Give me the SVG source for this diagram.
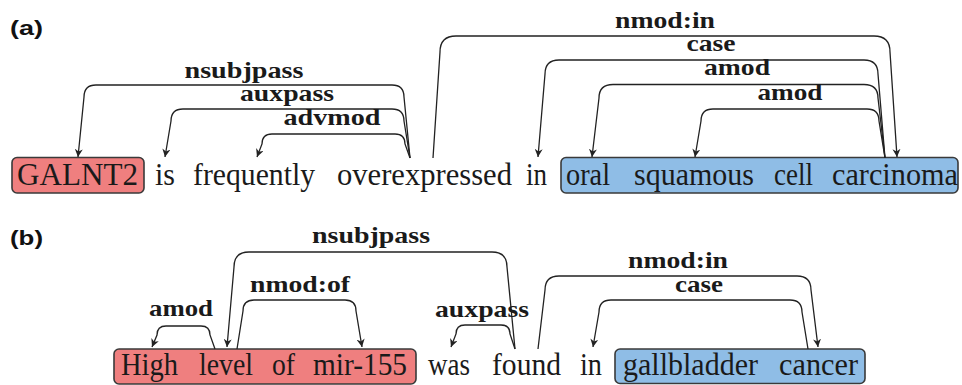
<svg xmlns="http://www.w3.org/2000/svg" width="962" height="385" viewBox="0 0 962 385">
<defs>
<marker id="ah" viewBox="0 0 10 10" refX="10" refY="5" markerWidth="8" markerHeight="8" markerUnits="userSpaceOnUse" orient="auto">
<path d="M0,0 L10,5 L0,10 L3,5 z" fill="#222"/>
</marker>
</defs>
<rect width="962" height="385" fill="#fff"/>
<g font-family="Liberation Serif, DejaVu Serif, serif" font-size="31" fill="#1a1a1a" lengthAdjust="spacingAndGlyphs">
<g id="a-GALNT2"><rect fill="#ef7f7f" stroke="#3a3a3a" stroke-width="1.6" x="12" y="157.5" width="132" height="35.5" rx="5"/><text x="17" y="185" textLength="121" lengthAdjust="spacingAndGlyphs">GALNT2</text></g>
<g id="a-is"><text x="155" y="185" textLength="20" lengthAdjust="spacingAndGlyphs">is</text></g>
<g id="a-frequently"><text x="193" y="185" textLength="122" lengthAdjust="spacingAndGlyphs">frequently</text></g>
<g id="a-overexpressed"><text x="337" y="185" textLength="175" lengthAdjust="spacingAndGlyphs">overexpressed</text></g>
<g id="a-in"><text x="526" y="185" textLength="21" lengthAdjust="spacingAndGlyphs">in</text></g>
<g id="a-oscc"><rect fill="#8fbde6" stroke="#3a3a3a" stroke-width="1.6" x="561" y="157.5" width="397" height="35.5" rx="5"/>
<text x="566" y="185" textLength="44" lengthAdjust="spacingAndGlyphs">oral</text>
<text x="634" y="185" textLength="120" lengthAdjust="spacingAndGlyphs">squamous</text>
<text x="774" y="185" textLength="39" lengthAdjust="spacingAndGlyphs">cell</text>
<text x="832" y="185" textLength="126" lengthAdjust="spacingAndGlyphs">carcinoma</text></g>
<g id="b-hlm"><rect fill="#ef7f7f" stroke="#3a3a3a" stroke-width="1.6" x="114" y="349" width="302" height="35" rx="5"/>
<text x="121" y="375" textLength="57" lengthAdjust="spacingAndGlyphs">High</text>
<text x="199" y="375" textLength="54" lengthAdjust="spacingAndGlyphs">level</text>
<text x="272" y="375" textLength="23" lengthAdjust="spacingAndGlyphs">of</text>
<text x="313" y="375" textLength="94" lengthAdjust="spacingAndGlyphs">mir-155</text></g>
<g id="b-was"><text x="428" y="375" textLength="42" lengthAdjust="spacingAndGlyphs">was</text></g>
<g id="b-found"><text x="492" y="375" textLength="69" lengthAdjust="spacingAndGlyphs">found</text></g>
<g id="b-in"><text x="580" y="375" textLength="22" lengthAdjust="spacingAndGlyphs">in</text></g>
<g id="b-gc"><rect fill="#8fbde6" stroke="#3a3a3a" stroke-width="1.6" x="615" y="349" width="250" height="34.5" rx="5"/>
<text x="623" y="375" textLength="135" lengthAdjust="spacingAndGlyphs">gallbladder</text>
<text x="779" y="375" textLength="79" lengthAdjust="spacingAndGlyphs">cancer</text></g>
</g>
<g id="connectors">
<g fill="none" stroke="#222" stroke-width="1.3" marker-end="url(#ah)">
<path d="M410,158 L404,97 Q404,85 392,85 L96,85 Q84,85 84,97 L78,157"/>
<path d="M410,158 L404,121 Q404,109 392,109 L183,109 Q171,109 171,121 L165,157"/>
<path d="M410,158 L405,144 Q405,134 395,134 L272,134 Q262,134 262,144 L257,157"/>
<path d="M433,158 L440,52 Q440,36 456,36 L874,36 Q890,36 890,52 L897,157"/>
<path d="M885,158 L878,74 Q878,60 864,60 L559,60 Q545,60 545,74 L538,157"/>
<path d="M885,158 L878,98 Q878,84.5 864,84.5 L613,84.5 Q599,84.5 599,98 L592,157"/>
<path d="M885,158 L879,121 Q879,109 867,109 L713,109 Q701,109 701,121 L695,157"/>
<path d="M215,349 L210,335 Q210,326 201,326 L166,326 Q157,326 157,335 L152,347"/>
<path d="M237,349 L243,311 Q243,300 254,300 L345,300 Q356,300 356,311 L362,347"/>
<path d="M515,349 L507,267 Q507,252 492,252 L249,252 Q234,252 234,267 L227,347"/>
<path d="M515,349 L510,334 Q510,325 501,325 L465,325 Q456,325 456,334 L451,347"/>
<path d="M538,349 L545,290 Q545,276 559,276 L797,276 Q811,276 811,290 L818,347"/>
<path d="M808,349 L802,312 Q802,300 790,300 L611,300 Q599,300 599,312 L593,347"/>
</g>
<g font-family="Liberation Serif, DejaVu Serif, serif" font-size="24" font-weight="bold" fill="#1a1a1a" text-anchor="middle">
<text x="244" y="78" textLength="119" lengthAdjust="spacingAndGlyphs">nsubjpass</text>
<text x="287" y="101" textLength="94" lengthAdjust="spacingAndGlyphs">auxpass</text>
<text x="332" y="125" textLength="97" lengthAdjust="spacingAndGlyphs">advmod</text>
<text x="665" y="28" textLength="100" lengthAdjust="spacingAndGlyphs">nmod:in</text>
<text x="711" y="51" textLength="49" lengthAdjust="spacingAndGlyphs">case</text>
<text x="737" y="75" textLength="66" lengthAdjust="spacingAndGlyphs">amod</text>
<text x="790" y="100" textLength="65" lengthAdjust="spacingAndGlyphs">amod</text>
<text x="181" y="316" textLength="64" lengthAdjust="spacingAndGlyphs">amod</text>
<text x="300" y="292" textLength="100" lengthAdjust="spacingAndGlyphs">nmod:of</text>
<text x="371" y="243" textLength="118" lengthAdjust="spacingAndGlyphs">nsubjpass</text>
<text x="482" y="317" textLength="94" lengthAdjust="spacingAndGlyphs">auxpass</text>
<text x="678" y="268" textLength="100" lengthAdjust="spacingAndGlyphs">nmod:in</text>
<text x="699" y="292" textLength="48" lengthAdjust="spacingAndGlyphs">case</text>
</g>
</g>
<g font-family="Liberation Sans, Arial, sans-serif" font-size="20" font-weight="bold" fill="#111">
<text x="10" y="35" textLength="33" lengthAdjust="spacingAndGlyphs">(a)</text>
<text x="10" y="245" textLength="33" lengthAdjust="spacingAndGlyphs">(b)</text>
</g>
</svg>
